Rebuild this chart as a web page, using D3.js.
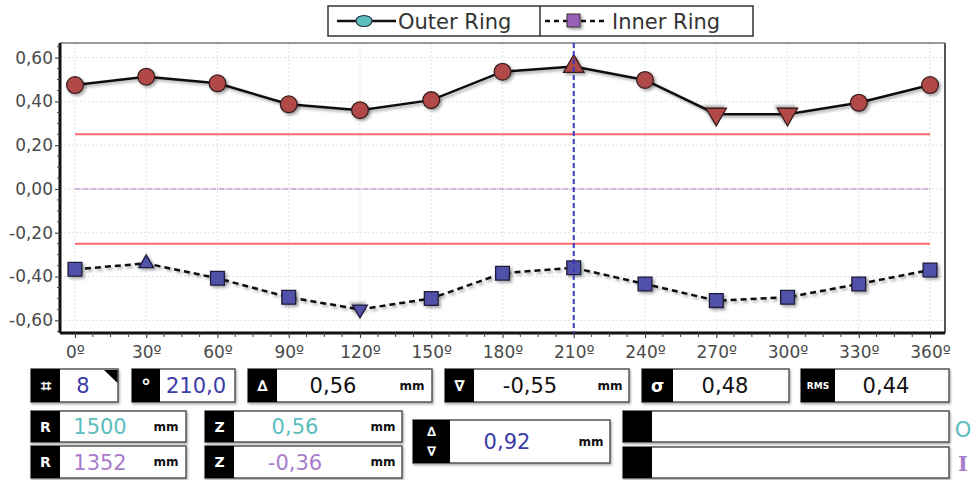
<!DOCTYPE html>
<html><head><meta charset="utf-8">
<script src="https://cdn.jsdelivr.net/npm/d3@7"></script>
<style>
body{margin:0;background:#fff;}
svg{display:block;font-family:"DejaVu Sans",Verdana,sans-serif;}
</style></head>
<body><svg id="c" width="977" height="480"></svg>
<script>
// ---- data ----
const angles = [0,30,60,90,120,150,180,210,240,270,300,330,360];
const outerRing = [0.475,0.513,0.483,0.387,0.360,0.406,0.536,0.560,0.498,0.342,0.342,0.394,0.475];
const innerRing = [-0.367,-0.340,-0.408,-0.495,-0.550,-0.500,-0.385,-0.360,-0.434,-0.510,-0.495,-0.434,-0.370];
const yTicks = [-0.6,-0.4,-0.2,0,0.2,0.4,0.6];
const xTicks = angles;
const tolerance = [0.25,-0.25];
const cursorAngle = 210;
const seriesNames = ["Outer Ring","Inner Ring"];
const fieldCount = "8", fieldAngle = "210,0", fieldMax = "0,56", fieldMin = "-0,55", fieldSigma = "0,48", fieldRms = "0,44";
const radiusOuter = "1500", radiusInner = "1352", zOuter = "0,56", zInner = "-0,36", fieldDelta = "0,92";

const svg = d3.select("#c");
const L=60,R=945,T=43,B=333;
const x = d3.scaleLinear().domain([-6.3,366.3]).range([L,R]);
const y = d3.scaleLinear().domain([-0.658,0.667]).range([B,T]);
const fmt = v => d3.format(".2f")(v).replace(".",",").replace("−","-");

const defs = svg.append("defs");
const f = defs.append("filter").attr("id","sh").attr("x","-50%").attr("y","-50%").attr("width","200%").attr("height","200%");
f.append("feDropShadow").attr("dx",2).attr("dy",2).attr("stdDeviation",1.4).attr("flood-color","#000").attr("flood-opacity",0.35);
const f2 = defs.append("filter").attr("id","bs").attr("x","-5%").attr("y","-10%").attr("width","110%").attr("height","130%");
f2.append("feDropShadow").attr("dx",1).attr("dy",1.5).attr("stdDeviation",0.8).attr("flood-color","#000").attr("flood-opacity",0.35);

// grid
const g = svg.append("g");
g.selectAll(".gx").data(xTicks).join("line").attr("x1",d=>x(d)).attr("x2",d=>x(d)).attr("y1",T).attr("y2",B)
 .attr("stroke","#e2e2e2").attr("stroke-dasharray","2,2");
g.selectAll(".gy").data(yTicks).join("line").attr("x1",L).attr("x2",R).attr("y1",d=>y(d)).attr("y2",d=>y(d))
 .attr("stroke","#e2e2e2").attr("stroke-dasharray","2,2");

// frame top/right
svg.append("line").attr("x1",L).attr("x2",R).attr("y1",T).attr("y2",T).attr("stroke","#777").attr("stroke-width",1.5);
svg.append("line").attr("x1",R).attr("x2",R).attr("y1",T).attr("y2",B).attr("stroke","#555").attr("stroke-width",2);

// tolerance + zero
svg.selectAll(".tol").data(tolerance).join("line").attr("x1",x(0)).attr("x2",x(360)).attr("y1",d=>y(d)).attr("y2",d=>y(d))
 .attr("stroke","#ff6a6a").attr("stroke-width",2);
svg.append("line").attr("x1",x(0)).attr("x2",x(360)).attr("y1",y(0)).attr("y2",y(0))
 .attr("stroke","#c79ad8").attr("stroke-width",1.5).attr("stroke-dasharray","5,1,1,1");

// axes
const yAxis = d3.axisLeft(y).tickValues(yTicks).tickSize(5).tickFormat(fmt);
const ya = svg.append("g").attr("transform",`translate(${L},0)`).call(yAxis);
const yMinor = d3.range(-0.65,0.66,0.05).map(v=>+v.toFixed(2)).filter(v=>!yTicks.some(t=>Math.abs(t-v)<1e-6));
svg.append("g").selectAll("line").data(yMinor).join("line").attr("x1",L-3).attr("x2",L).attr("y1",d=>y(d)).attr("y2",d=>y(d)).attr("stroke","#444");
const xAxis = d3.axisBottom(x).tickValues(xTicks).tickSize(5).tickFormat(d=>d+"º");
const xa = svg.append("g").attr("transform",`translate(0,${B})`).call(xAxis);
const xMinor = d3.range(0,361,7.5).filter(v=>v%30!==0);
svg.append("g").selectAll("line").data(xMinor).join("line").attr("x1",d=>x(d)).attr("x2",d=>x(d)).attr("y1",B).attr("y2",B+4).attr("stroke","#444");
[ya,xa].forEach(a=>{a.select(".domain").attr("stroke","#111").attr("stroke-width",3);
 a.selectAll(".tick line").attr("stroke","#444").attr("stroke-width",1.2);
 a.selectAll("text").attr("fill","#4a4a4a").attr("font-size",17).attr("font-family","DejaVu Sans, sans-serif");});
ya.selectAll("text").attr("x",-7);
xa.selectAll("text").attr("y",13);
ya.select(".domain").attr("d",`M0,${B}V${T}`);
xa.select(".domain").attr("d",`M${L},0H${R}`);

// lines
const line = d3.line().x((d,i)=>x(angles[i])).y(d=>y(d));
svg.append("path").datum(outerRing).attr("d",line).attr("fill","none").attr("stroke","#111").attr("stroke-width",2.5).attr("filter","url(#sh)");
svg.append("path").datum(innerRing).attr("d",line).attr("fill","none").attr("stroke","#111").attr("stroke-width",2.5).attr("stroke-dasharray","6,4").attr("filter","url(#sh)");

function markers(vals, baseSym, baseSize, triSize, fill, stroke){
  const mx = d3.max(vals), mn = d3.min(vals);
  svg.append("g").selectAll("path").data(vals).join("path")
   .attr("transform",(d,i)=>{const rot = (d===mn && d!==mx)?180:0; return `translate(${x(angles[i])},${y(d)}) rotate(${rot})`;})
   .attr("d",d=> (d===mx||d===mn) ? d3.symbol(d3.symbolTriangle, triSize)() : d3.symbol(baseSym, baseSize)())
   .attr("fill",fill).attr("stroke",stroke).attr("stroke-width",1.3).attr("filter","url(#sh)");
}
markers(outerRing, d3.symbolCircle, 220, 180, "#b24a4a", "#3a1c1c");
markers(innerRing, d3.symbolSquare, 190, 95, "#5151a9", "#1c1c3a");

// cursor
svg.append("line").attr("x1",x(cursorAngle)).attr("x2",x(cursorAngle)).attr("y1",T).attr("y2",B)
 .attr("stroke","#3b3bc0").attr("stroke-width",2).attr("stroke-dasharray","5,3");

// legend
const lg = svg.append("g");
lg.append("rect").attr("x",328).attr("y",6).attr("width",425).attr("height",30).attr("fill","#fff").attr("stroke","#333").attr("stroke-width",1.5);
lg.append("line").attr("x1",540).attr("x2",540).attr("y1",6).attr("y2",36).attr("stroke","#333").attr("stroke-width",1.5);
lg.append("line").attr("x1",337).attr("x2",396).attr("y1",21).attr("y2",21).attr("stroke","#111").attr("stroke-width",2.5);
lg.append("ellipse").attr("cx",364).attr("cy",21).attr("rx",8).attr("ry",5.5).attr("fill","#5fbebe").attr("stroke","#234").attr("stroke-width",1.2);
lg.append("text").attr("x",398).attr("y",29).attr("font-size",21).attr("fill","#333").text(seriesNames[0]);
lg.append("line").attr("x1",545).attr("x2",608).attr("y1",21).attr("y2",21).attr("stroke","#111").attr("stroke-width",2.5).attr("stroke-dasharray","5,4");
lg.append("rect").attr("x",567).attr("y",14).attr("width",13).attr("height",13).attr("fill","#9a5fb8").attr("stroke","#333").attr("stroke-width",1).attr("filter","url(#sh)");
lg.append("text").attr("x",612).attr("y",29).attr("font-size",21).attr("fill","#333").text(seriesNames[1]);

// bottom panel
const P = svg.append("g");
function box(bx,by,w,h,lw,label,lsize,val,vc,vcx,unit,ucx){
  const gg = P.append("g");
  gg.append("rect").attr("x",bx).attr("y",by).attr("width",w).attr("height",h).attr("fill","#fff").attr("stroke","#555").attr("stroke-width",1.5).attr("filter","url(#bs)");
  gg.append("rect").attr("x",bx).attr("y",by).attr("width",lw).attr("height",h).attr("fill","#000");
  if(label!==null){
    gg.append("text").attr("x",bx+lw/2).attr("y",by+h/2).attr("dy","0.36em").attr("text-anchor","middle")
      .attr("fill","#fff").attr("font-weight","bold").attr("font-size",lsize).text(label);
  }
  if(val!==null){
    gg.append("text").attr("x",vcx).attr("y",by+h/2).attr("dy","0.36em").attr("text-anchor","middle")
      .attr("fill",vc).attr("font-size",21).text(val);
  }
  if(unit){
    gg.append("text").attr("x",ucx).attr("y",by+h/2).attr("dy","0.36em").attr("text-anchor","middle")
      .attr("fill","#111").attr("font-weight","bold").attr("font-size",12).text(unit);
  }
  return gg;
}
const blue="#3c3ca8", teal="#5bbdbd", purple="#a87cca";
const b1 = box(31,369,87,33,29,"⌗",18,fieldCount,blue,83);
b1.append("polygon").attr("points","104,370 117.5,370 117.5,383").attr("fill","#000");
box(132,369,103,33,28,"°",20,fieldAngle,blue,196);
box(248,369,184,33,29,"∆",15,fieldMax,"#111",333,"mm",412);
box(445,369,184,33,29,"∇",15,fieldMin,"#111",530,"mm",610);
box(642,369,147,33,31,"σ",17,fieldSigma,"#111",725);
box(801,369,148,33,34,"RMS",9,fieldRms,"#111",886);
box(31,411,155,31,29,"R",14,radiusOuter,teal,100,"mm",166);
box(31,446,155,32,29,"R",14,radiusInner,purple,100,"mm",166);
box(205,411,197,31,29,"Z",14,zOuter,teal,295,"mm",383);
box(205,446,197,32,29,"Z",14,zInner,purple,295,"mm",383);
const bd = box(413,420,197,43,37,null,14,fieldDelta,blue,507,"mm",591);
bd.append("text").attr("x",431.5).attr("y",436).attr("text-anchor","middle").attr("fill","#fff").attr("font-weight","bold").attr("font-size",13).text("∆");
bd.append("text").attr("x",431.5).attr("y",456).attr("text-anchor","middle").attr("fill","#fff").attr("font-weight","bold").attr("font-size",13).text("∇");
box(623,411,326,31,29,null,14,null);
box(623,447,326,31,29,null,14,null);
P.append("text").attr("x",963).attr("y",437).attr("text-anchor","middle").attr("fill",teal).attr("font-size",21).text("O");
P.append("text").attr("x",963).attr("y",471).attr("text-anchor","middle").attr("fill",purple).attr("font-size",21).attr("font-weight","bold").attr("font-family","DejaVu Serif, serif").text("I");
</script></body></html>
